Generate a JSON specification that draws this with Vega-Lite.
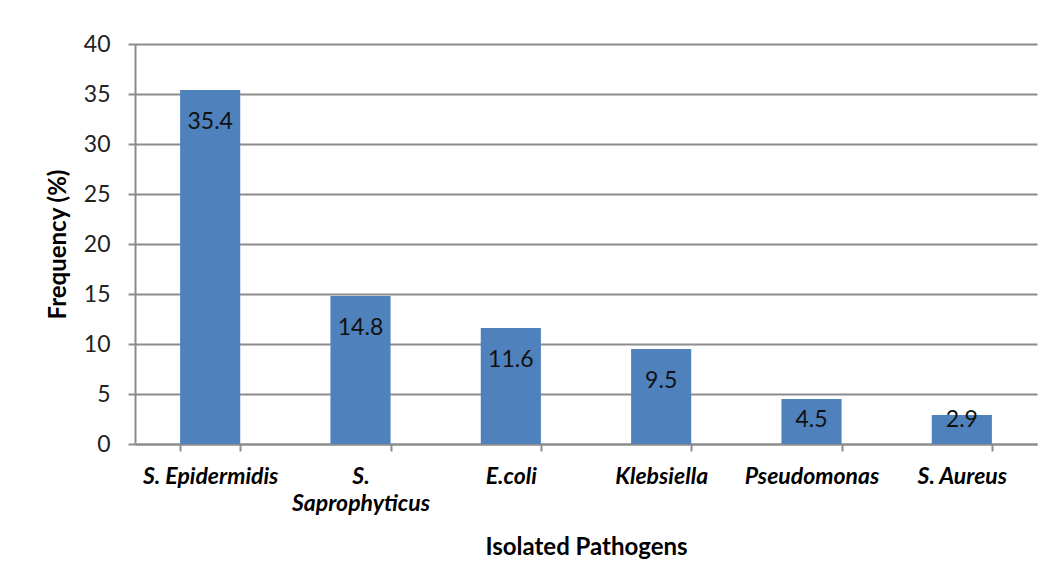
{
  "$schema": "https://vega.github.io/schema/vega-lite/v6.json",
  "autosize": {"type": "none"},
  "width": 902,
  "height": 400,
  "padding": {"left": 135, "top": 44, "right": 16, "bottom": 141},
  "background": "white",
  "config": {"view": {"stroke": null}, "font": "Lato"},
  "data": {"values": [
    {"pathogen": "S. Epidermidis", "value": 35.4},
    {"pathogen": "S. Saprophyticus", "value": 14.8},
    {"pathogen": "E.coli", "value": 11.6},
    {"pathogen": "Klebsiella", "value": 9.5},
    {"pathogen": "Pseudomonas", "value": 4.5},
    {"pathogen": "S. Aureus", "value": 2.9}
  ]},
  "encoding": {
    "x": {
      "field": "pathogen", "type": "nominal", "sort": null,
      "scale": {"paddingInner": 0.6, "paddingOuter": 0.3},
      "axis": {
        "title": "Isolated Pathogens", "titleFont": "Lato", "titleFontSize": 24, "titleFontWeight": "bold", "titleColor": "#000000", "titlePadding": 20,
        "labelAngle": 0, "labelFont": "Lato", "labelFontSize": 23, "labelFontWeight": "bold", "labelFontStyle": "italic", "labelColor": "#000000",
        "labelPadding": 14, "labelLineHeight": 27,
        "labelExpr": "datum.value == 'S. Saprophyticus' ? ['S.', 'Saprophyticus'] : datum.label",
        "domainColor": "#8c8c8c", "domainWidth": 2, "tickColor": "#8c8c8c", "tickWidth": 2, "tickSize": 7,
        "tickBand": "extent", "grid": false
      }
    }
  },
  "layer": [
    {
      "mark": {"type": "bar", "color": "#4F81BD"},
      "encoding": {
        "y": {
          "field": "value", "type": "quantitative",
          "scale": {"domain": [0, 40], "nice": false},
          "axis": {
            "title": "Frequency (%)", "titleFont": "Lato", "titleFontSize": 24, "titleFontWeight": "bold", "titleColor": "#000000", "titlePadding": 13,
            "values": [0, 5, 10, 15, 20, 25, 30, 35, 40],
            "labelFont": "Lato", "labelFontSize": 23, "labelColor": "#222222", "labelPadding": 18,
            "domainColor": "#8c8c8c", "domainWidth": 2, "tickColor": "#8c8c8c", "tickWidth": 2, "tickSize": 7,
            "grid": true, "gridColor": "#8c8c8c", "gridWidth": 2
          }
        }
      }
    },
    {
      "transform": [{"filter": "datum.value >= 8"}],
      "mark": {"type": "text", "baseline": "middle", "dy": 32, "fontSize": 23, "font": "Lato", "color": "#111111"},
      "encoding": {
        "y": {"field": "value", "type": "quantitative"},
        "text": {"field": "value", "type": "quantitative", "format": ".1f"}
      }
    },
    {
      "transform": [{"filter": "datum.value < 8"}],
      "mark": {"type": "text", "baseline": "middle", "dy": -24, "fontSize": 23, "font": "Lato", "color": "#111111"},
      "encoding": {
        "y": {"datum": 0, "type": "quantitative"},
        "text": {"field": "value", "type": "quantitative", "format": ".1f"}
      }
    }
  ]
}
